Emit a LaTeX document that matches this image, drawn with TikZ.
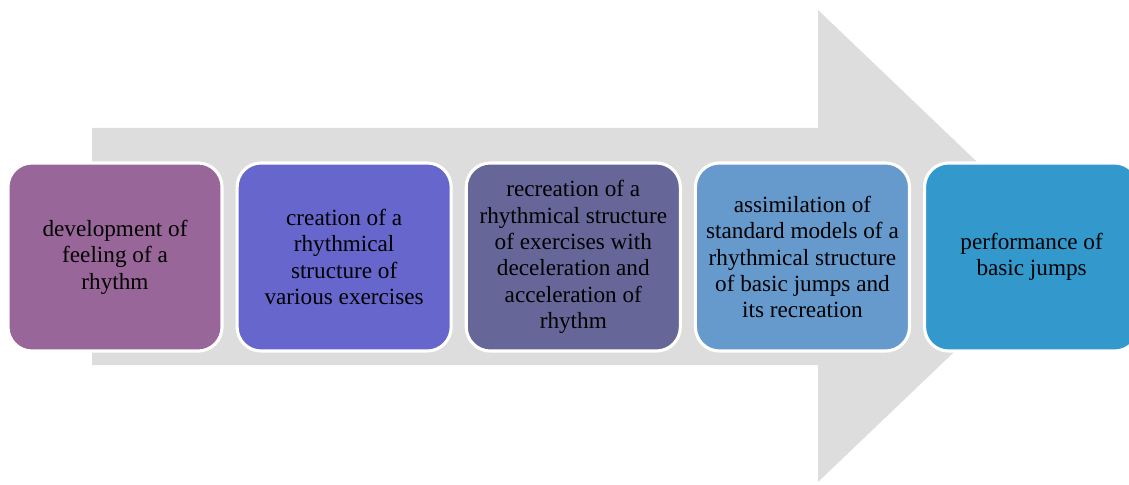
\documentclass[tikz,border=0pt]{standalone}
\usepackage{fontspec}
\setmainfont{Liberation Serif}
\usetikzlibrary{positioning}
\definecolor{arrowgray}{HTML}{DDDDDD}
\definecolor{devpurple}{HTML}{996699}
\definecolor{createblue}{HTML}{6666CC}
\definecolor{recreateblue}{HTML}{666699}
\definecolor{assimblue}{HTML}{6699CC}
\definecolor{performblue}{HTML}{3399CC}
\begin{document}
\begin{tikzpicture}
[x = 0.025cm, y = -0.025cm,
node distance = 0.3cm,
stage/.style = {draw = white, line width = 2.2pt, rounded corners = 0.6cm,
minimum width = 5.35cm, minimum height = 4.7cm, align = center,
font = \fontsize{16.5}{18.8}\selectfont},
]
\clip (0,0) rectangle (1129,485);
% big arrow behind the stages
\fill [arrowgray] (92,128) -- (818,128) -- (818,10) -- (1065,246)
-- (818,482) -- (818,365) -- (92,365) -- cycle;
\node [stage, fill = devpurple] (dev) at (115,257)
{development of\\feeling of a\\rhythm};
\node [stage, fill = createblue, right = of dev] (create)
{creation of a\\rhythmical\\structure of\\various exercises};
\node [stage, fill = recreateblue, right = of create] (recreate)
{recreation of a\\rhythmical structure\\of exercises with\\deceleration and\\acceleration of\\rhythm};
\node [stage, fill = assimblue, right = of recreate] (assim)
{assimilation of\\standard models of a\\rhythmical structure\\of basic jumps and\\its recreation};
\node [stage, fill = performblue, right = of assim] (perform)
{performance of\\basic jumps};
\end{tikzpicture}
\end{document}
